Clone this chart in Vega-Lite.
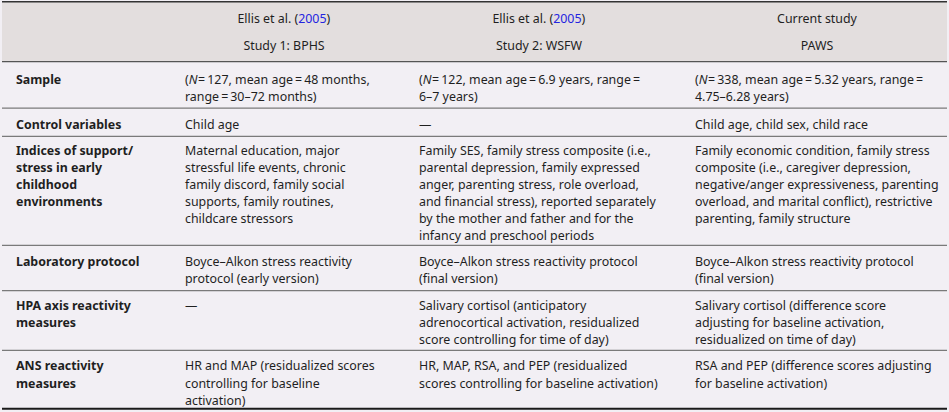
{
  "$schema": "https://vega.github.io/schema/vega-lite/v6.json",
  "width": 949,
  "height": 412,
  "autosize": {"type": "fit", "contains": "padding"},
  "padding": 0,
  "background": "#f2eff4",
  "config": {
    "view": {"stroke": null},
    "text": {"font": "Noto Sans", "fontSize": 12.4, "color": "#1f1f1f", "baseline": "middle"}
  },
  "datasets": {
    "bands": [{"part": "header", "top": 0, "bottom": 3.489}],
    "rules": [
      {"kind": "outer", "line": 0.04},
      {"kind": "head", "line": 3.489},
      {"kind": "row", "line": 6.167},
      {"kind": "row", "line": 7.799},
      {"kind": "row", "line": 14.08},
      {"kind": "row", "line": 16.684},
      {"kind": "row", "line": 20.132},
      {"kind": "bottom", "line": 23.49}
    ],
    "header": [
      {"col": 1, "line": 2.586, "text": "Study 1: BPHS"},
      {"col": 2, "line": 2.586, "text": "Study 2: WSFW"},
      {"col": 3, "line": 1.02, "text": "Current study"},
      {"col": 3, "line": 2.586, "text": "PAWS"}
    ],
    "cite": [
      {"col": 1, "line": 1.02, "author": "Ellis et al. (", "year": "2005", "close": ")"},
      {"col": 2, "line": 1.02, "author": "Ellis et al. (", "year": "2005", "close": ")"}
    ],
    "labels": [
      {"col": 0, "line": 4.557, "text": "Sample"},
      {"col": 0, "line": 7.126, "text": "Control variables"},
      {"col": 0, "line": 8.621, "text": "Indices of support/"},
      {"col": 0, "line": 9.609, "text": "stress in early"},
      {"col": 0, "line": 10.598, "text": "childhood"},
      {"col": 0, "line": 11.586, "text": "environments"},
      {"col": 0, "line": 15.029, "text": "Laboratory protocol"},
      {"col": 0, "line": 17.546, "text": "HPA axis reactivity"},
      {"col": 0, "line": 18.535, "text": "measures"},
      {"col": 0, "line": 21.052, "text": "ANS reactivity"},
      {"col": 0, "line": 22.04, "text": "measures"}
    ],
    "samples": [
      {"col": 1, "line": 4.557, "open": "(", "var": "N", "rest": "\u2009=\u2009127, mean age\u2009=\u200948 months,"},
      {"col": 2, "line": 4.557, "open": "(", "var": "N", "rest": "\u2009=\u2009122, mean age\u2009=\u20096.9 years, range\u2009="},
      {"col": 3, "line": 4.557, "open": "(", "var": "N", "rest": "\u2009=\u2009338, mean age\u2009=\u20095.32 years, range\u2009="}
    ],
    "cells": [
      {"col": 1, "line": 5.557, "text": "range\u2009=\u200930–72 months)"},
      {"col": 2, "line": 5.557, "text": "6–7 years)"},
      {"col": 3, "line": 5.557, "text": "4.75–6.28 years)"},
      {"col": 1, "line": 7.126, "text": "Child age"},
      {"col": 2, "line": 7.126, "text": "—"},
      {"col": 3, "line": 7.126, "text": "Child age, child sex, child race"},
      {"col": 1, "line": 8.621, "text": "Maternal education, major"},
      {"col": 1, "line": 9.609, "text": "stressful life events, chronic"},
      {"col": 1, "line": 10.598, "text": "family discord, family social"},
      {"col": 1, "line": 11.586, "text": "supports, family routines,"},
      {"col": 1, "line": 12.575, "text": "childcare stressors"},
      {"col": 2, "line": 8.621, "text": "Family SES, family stress composite (i.e.,"},
      {"col": 2, "line": 9.609, "text": "parental depression, family expressed"},
      {"col": 2, "line": 10.598, "text": "anger, parenting stress, role overload,"},
      {"col": 2, "line": 11.586, "text": "and financial stress), reported separately"},
      {"col": 2, "line": 12.575, "text": "by the mother and father and for the"},
      {"col": 2, "line": 13.563, "text": "infancy and preschool periods"},
      {"col": 3, "line": 8.621, "text": "Family economic condition, family stress"},
      {"col": 3, "line": 9.609, "text": "composite (i.e., caregiver depression,"},
      {"col": 3, "line": 10.598, "text": "negative/anger expressiveness, parenting"},
      {"col": 3, "line": 11.586, "text": "overload, and marital conflict), restrictive"},
      {"col": 3, "line": 12.575, "text": "parenting, family structure"},
      {"col": 1, "line": 15.029, "text": "Boyce–Alkon stress reactivity"},
      {"col": 1, "line": 16.017, "text": "protocol (early version)"},
      {"col": 2, "line": 15.029, "text": "Boyce–Alkon stress reactivity protocol"},
      {"col": 2, "line": 16.017, "text": "(final version)"},
      {"col": 3, "line": 15.029, "text": "Boyce–Alkon stress reactivity protocol"},
      {"col": 3, "line": 16.017, "text": "(final version)"},
      {"col": 1, "line": 17.546, "text": "—"},
      {"col": 2, "line": 17.546, "text": "Salivary cortisol (anticipatory"},
      {"col": 2, "line": 18.535, "text": "adrenocortical activation, residualized"},
      {"col": 2, "line": 19.523, "text": "score controlling for time of day)"},
      {"col": 3, "line": 17.546, "text": "Salivary cortisol (difference score"},
      {"col": 3, "line": 18.535, "text": "adjusting for baseline activation,"},
      {"col": 3, "line": 19.523, "text": "residualized on time of day)"},
      {"col": 1, "line": 21.052, "text": "HR and MAP (residualized scores"},
      {"col": 1, "line": 22.04, "text": "controlling for baseline"},
      {"col": 1, "line": 23.029, "text": "activation)"},
      {"col": 2, "line": 21.052, "text": "HR, MAP, RSA, and PEP (residualized"},
      {"col": 2, "line": 22.04, "text": "scores controlling for baseline activation)"},
      {"col": 3, "line": 21.052, "text": "RSA and PEP (difference scores adjusting"},
      {"col": 3, "line": 22.04, "text": "for baseline activation)"}
    ]
  },
  "resolve": {"scale": {"x": "independent"}},
  "layer": [
    {
      "data": {"name": "bands"},
      "mark": {"type": "rect", "color": "#e3dede"},
      "encoding": {
        "x": {"value": 0},
        "x2": {"value": "width"},
        "y": {"field": "top", "type": "quantitative", "scale": {"domain": [0, 23.678], "reverse": true, "nice": false, "zero": false}, "axis": null},
        "y2": {"field": "bottom"}
      }
    },
    {
      "data": {"name": "rules"},
      "transform": [{"filter": "datum.kind === 'row'"}],
      "mark": {"type": "rule", "color": "#7a7a7a", "strokeWidth": 1.2},
      "encoding": {"y": {"field": "line", "type": "quantitative", "axis": null}}
    },
    {
      "data": {"name": "rules"},
      "transform": [{"filter": "datum.kind === 'head'"}],
      "mark": {"type": "rule", "color": "#555555", "strokeWidth": 1.3},
      "encoding": {"y": {"field": "line", "type": "quantitative", "axis": null}}
    },
    {
      "data": {"name": "rules"},
      "transform": [{"filter": "datum.kind === 'outer'"}],
      "mark": {"type": "rule", "color": "#333333", "strokeWidth": 1.5},
      "encoding": {"y": {"field": "line", "type": "quantitative", "axis": null}}
    },
    {
      "data": {"name": "rules"},
      "transform": [{"filter": "datum.kind === 'bottom'"}],
      "mark": {"type": "rule", "color": "#1a1a1a", "strokeWidth": 2.2},
      "encoding": {"y": {"field": "line", "type": "quantitative", "axis": null}}
    },
    {
      "data": {"name": "header"},
      "mark": {"type": "text", "align": "center"},
      "encoding": {
        "x": {"field": "col", "type": "quantitative", "scale": {"domain": [1, 2, 3], "range": [282, 537, 815], "nice": false, "zero": false}, "axis": null},
        "y": {"field": "line", "type": "quantitative", "axis": null},
        "text": {"field": "text"}
      }
    },
    {
      "data": {"name": "cite"},
      "mark": {"type": "text", "align": "right", "dx": 14.2},
      "encoding": {
        "x": {"field": "col", "type": "quantitative", "scale": {"domain": [1, 2, 3], "range": [282, 537, 815], "nice": false, "zero": false}, "axis": null},
        "y": {"field": "line", "type": "quantitative", "axis": null},
        "text": {"field": "author"}
      }
    },
    {
      "data": {"name": "cite"},
      "mark": {"type": "text", "align": "left", "dx": 14.2, "color": "#2424e0"},
      "encoding": {
        "x": {"field": "col", "type": "quantitative", "scale": {"domain": [1, 2, 3], "range": [282, 537, 815], "nice": false, "zero": false}, "axis": null},
        "y": {"field": "line", "type": "quantitative", "axis": null},
        "text": {"field": "year"}
      }
    },
    {
      "data": {"name": "cite"},
      "mark": {"type": "text", "align": "left", "dx": 42.6},
      "encoding": {
        "x": {"field": "col", "type": "quantitative", "scale": {"domain": [1, 2, 3], "range": [282, 537, 815], "nice": false, "zero": false}, "axis": null},
        "y": {"field": "line", "type": "quantitative", "axis": null},
        "text": {"field": "close"}
      }
    },
    {
      "data": {"name": "labels"},
      "mark": {"type": "text", "align": "left", "fontWeight": "bold"},
      "encoding": {
        "x": {"field": "col", "type": "quantitative", "scale": {"domain": [0, 1, 2, 3], "range": [14, 183, 417, 693], "nice": false, "zero": false}, "axis": null},
        "y": {"field": "line", "type": "quantitative", "axis": null},
        "text": {"field": "text"}
      }
    },
    {
      "data": {"name": "cells"},
      "mark": {"type": "text", "align": "left"},
      "encoding": {
        "x": {"field": "col", "type": "quantitative", "scale": {"domain": [0, 1, 2, 3], "range": [14, 183, 417, 693], "nice": false, "zero": false}, "axis": null},
        "y": {"field": "line", "type": "quantitative", "axis": null},
        "text": {"field": "text"}
      }
    },
    {
      "data": {"name": "samples"},
      "mark": {"type": "text", "align": "left"},
      "encoding": {
        "x": {"field": "col", "type": "quantitative", "scale": {"domain": [0, 1, 2, 3], "range": [14, 183, 417, 693], "nice": false, "zero": false}, "axis": null},
        "y": {"field": "line", "type": "quantitative", "axis": null},
        "text": {"field": "open"}
      }
    },
    {
      "data": {"name": "samples"},
      "mark": {"type": "text", "align": "left", "dx": 3.7, "fontStyle": "italic"},
      "encoding": {
        "x": {"field": "col", "type": "quantitative", "scale": {"domain": [0, 1, 2, 3], "range": [14, 183, 417, 693], "nice": false, "zero": false}, "axis": null},
        "y": {"field": "line", "type": "quantitative", "axis": null},
        "text": {"field": "var"}
      }
    },
    {
      "data": {"name": "samples"},
      "mark": {"type": "text", "align": "left", "dx": 13.1},
      "encoding": {
        "x": {"field": "col", "type": "quantitative", "scale": {"domain": [0, 1, 2, 3], "range": [14, 183, 417, 693], "nice": false, "zero": false}, "axis": null},
        "y": {"field": "line", "type": "quantitative", "axis": null},
        "text": {"field": "rest"}
      }
    }
  ]
}
